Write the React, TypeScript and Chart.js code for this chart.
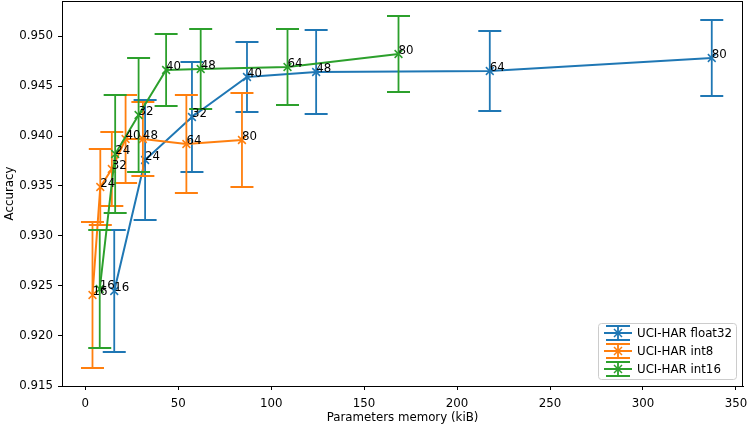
import { useEffect, useRef } from "react";
import { Chart, registerables } from "chart.js";
import type { Plugin } from "chart.js";

Chart.register(...registerables);

// hidden units per model, written next to every point
const pointLabels = ["16", "24", "32", "40", "48", "64", "80"];
const seriesNames = ["UCI-HAR float32", "UCI-HAR int8", "UCI-HAR int16"];
const colors = ["#1f77b4", "#ff7f0e", "#2ca02c"];

// parameters memory (kiB)
const float32Memory = [15.6, 32.2, 57.4, 87.0, 124.2, 217.6, 337.0];
const int8Memory = [3.9, 8.1, 14.3, 21.7, 31.0, 54.4, 84.3];
const int16Memory = [7.8, 16.1, 28.7, 43.5, 62.1, 108.8, 168.5];

// mean accuracy
const float32Accuracy = [0.9245, 0.9376, 0.9419, 0.9459, 0.9464, 0.9465, 0.9478];
const int8Accuracy = [0.9241, 0.9349, 0.9367, 0.9397, 0.9397, 0.9392, 0.9396];
const int16Accuracy = [0.9247, 0.9382, 0.9421, 0.9466, 0.9467, 0.9469, 0.9482];

// standard deviation of accuracy
const float32Std = [0.0061, 0.006, 0.0055, 0.0035, 0.0042, 0.004, 0.0038];
const int8Std = [0.0073, 0.0038, 0.0037, 0.0044, 0.0037, 0.0049, 0.0047];
const int16Std = [0.0059, 0.0059, 0.0057, 0.0036, 0.004, 0.0038, 0.0038];

const xTicks = [0, 50, 100, 150, 200, 250, 300, 350];
const yTicks = [0.915, 0.92, 0.925, 0.93, 0.935, 0.94, 0.945, 0.95];

const memories = [float32Memory, int8Memory, int16Memory];
const accuracies = [float32Accuracy, int8Accuracy, int16Accuracy];
const stds = [float32Std, int8Std, int16Std];

const FONT_SIZE = 11.8;
const FONT = `${FONT_SIZE}px 'DejaVu Sans'`;
const CAP = 11.5;

const errorBars: Plugin<"line"> = {
  id: "errorBars",
  beforeDatasetDraw(chart, args) {
    const i = args.index;
    const { ctx } = chart;
    const y = chart.scales.y;
    ctx.save();
    ctx.strokeStyle = colors[i];
    ctx.lineWidth = 1.8;
    args.meta.data.forEach((pt, j) => {
      const px = pt.x;
      const top = y.getPixelForValue(accuracies[i][j] + stds[i][j]);
      const bottom = y.getPixelForValue(accuracies[i][j] - stds[i][j]);
      ctx.beginPath();
      ctx.moveTo(px, top);
      ctx.lineTo(px, bottom);
      ctx.moveTo(px - CAP, top);
      ctx.lineTo(px + CAP, top);
      ctx.moveTo(px - CAP, bottom);
      ctx.lineTo(px + CAP, bottom);
      ctx.stroke();
    });
    ctx.restore();
  },
};

const annotations: Plugin<"line"> = {
  id: "annotations",
  afterDatasetsDraw(chart) {
    const { ctx } = chart;
    ctx.save();
    ctx.fillStyle = "#000";
    ctx.font = FONT;
    ctx.textAlign = "left";
    ctx.textBaseline = "alphabetic";
    chart.data.datasets.forEach((_, i) => {
      chart.getDatasetMeta(i).data.forEach((pt, j) => {
        ctx.fillText(pointLabels[j], pt.x, pt.y);
      });
    });
    ctx.restore();
  },
};

const frameAndLegend: Plugin<"line"> = {
  id: "frameAndLegend",
  afterDraw(chart) {
    const { ctx, chartArea: a } = chart;
    ctx.save();
    ctx.strokeStyle = "#000";
    ctx.lineWidth = 1;
    ctx.strokeRect(a.left + 0.5, a.top + 0.5, a.right - a.left - 1, a.bottom - a.top);

    // legend box, lower right
    const bx = 598, by = 323, bw = 138, bh = 56;
    ctx.beginPath();
    ctx.roundRect(bx + 0.5, by + 0.5, bw, bh, 3);
    ctx.fillStyle = "rgba(255,255,255,0.8)";
    ctx.fill();
    ctx.strokeStyle = "#cccccc";
    ctx.stroke();

    ctx.font = FONT;
    ctx.textBaseline = "middle";
    seriesNames.forEach((name, i) => {
      const ry = by + 10 + i * 18;
      const cx = 618;
      ctx.strokeStyle = colors[i];
      ctx.lineWidth = 1.8;
      ctx.beginPath();
      ctx.moveTo(604, ry);
      ctx.lineTo(632, ry);
      ctx.moveTo(cx, ry - 7);
      ctx.lineTo(cx, ry + 7);
      ctx.moveTo(cx - 12, ry - 7);
      ctx.lineTo(cx + 12, ry - 7);
      ctx.moveTo(cx - 12, ry + 7);
      ctx.lineTo(cx + 12, ry + 7);
      ctx.stroke();
      ctx.lineWidth = 1.5;
      ctx.beginPath();
      ctx.moveTo(cx - 4, ry - 4);
      ctx.lineTo(cx + 4, ry + 4);
      ctx.moveTo(cx - 4, ry + 4);
      ctx.lineTo(cx + 4, ry - 4);
      ctx.stroke();
      ctx.fillStyle = "#000";
      ctx.fillText(name, 637, ry + 0.5);
    });
    ctx.restore();
  },
};

export default function App() {
  const canvasRef = useRef<HTMLCanvasElement | null>(null);

  useEffect(() => {
    document.body.style.margin = "0";
    if (!canvasRef.current) return;

    Chart.defaults.font.family = "'DejaVu Sans'";
    Chart.defaults.font.size = FONT_SIZE;
    Chart.defaults.color = "#000";

    const chart = new Chart(canvasRef.current, {
      type: "line",
      data: {
        datasets: seriesNames.map((name, i) => ({
          label: name,
          data: memories[i].map((m, j) => ({ x: m, y: accuracies[i][j] })),
          borderColor: colors[i],
          backgroundColor: colors[i],
          borderWidth: 2,
          pointStyle: "crossRot",
          pointRadius: 5.5,
          pointBorderWidth: 1.5,
          fill: false,
          tension: 0,
          order: 2 - i,
        })),
      },
      options: {
        animation: false,
        responsive: true,
        maintainAspectRatio: false,
        layout: { autoPadding: false, padding: { top: 1, right: 4, left: 0, bottom: 0 } },
        plugins: {
          legend: { display: false },
          tooltip: { enabled: false },
        },
        scales: {
          x: {
            type: "linear",
            min: -12.5,
            max: 353.8,
            afterFit: (scale) => {
              scale.height = 42;
              scale.paddingLeft = 0;
              scale.paddingRight = 0;
            },
            afterBuildTicks: (scale) => {
              scale.ticks = xTicks.map((v) => ({ value: v }));
            },
            ticks: {
              padding: 7,
              maxRotation: 0,
              callback: (v) => String(v),
            },
            grid: { drawOnChartArea: false, drawTicks: true, tickLength: 4, color: "#000" },
            border: { color: "#000", width: 1 },
            title: {
              display: true,
              text: "Parameters memory (kiB)",
              padding: { top: 0, bottom: 3 },
            },
          },
          y: {
            type: "linear",
            min: 0.915,
            max: 0.9535,
            afterFit: (scale) => {
              scale.width = 62;
              scale.paddingTop = 0;
              scale.paddingBottom = 0;
            },
            afterBuildTicks: (scale) => {
              scale.ticks = yTicks.map((v) => ({ value: v }));
            },
            ticks: {
              padding: 5,
              callback: (v) => Number(v).toFixed(3),
            },
            grid: { drawOnChartArea: false, drawTicks: true, tickLength: 4, color: "#000" },
            border: { color: "#000", width: 1 },
            title: {
              display: true,
              text: "Accuracy",
              padding: { top: 3, bottom: 0 },
            },
          },
        },
      },
      plugins: [errorBars, annotations, frameAndLegend],
    });

    return () => chart.destroy();
  }, []);

  return (
    <div style={{ width: 747, height: 428, position: "relative" }}>
      <canvas ref={canvasRef} aria-label="Accuracy vs parameters memory" />
    </div>
  );
}
